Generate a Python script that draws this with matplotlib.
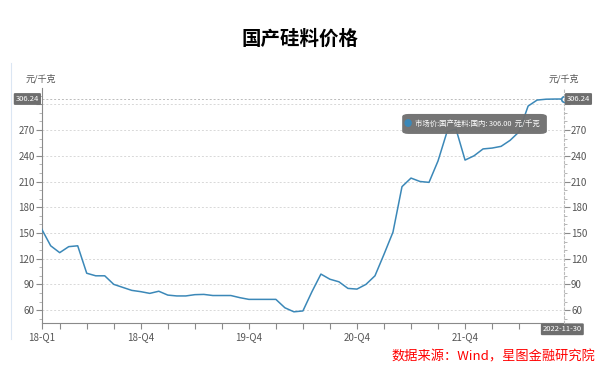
import matplotlib
matplotlib.use("Agg")
import matplotlib.pyplot as plt
from matplotlib.lines import Line2D
from matplotlib.patches import FancyBboxPatch
from matplotlib.ticker import MultipleLocator

plt.rcParams["font.family"] = ["Noto Sans CJK SC", "DejaVu Sans"]

# monthly price series, 元/千克
prices = [
    154.5, 135, 127, 134, 135, 103, 100, 100, 90, 86.5,
    83, 81.5, 79.5, 82, 77.5, 76.5, 76.5, 78, 78.3, 77,
    77, 77, 74.5, 72.5, 72.5, 72.5, 72.5, 62.7, 58, 59,
    81.4, 102, 96, 93, 85.3, 84.5, 90, 100, 125, 151,
    204, 214, 210, 209, 234, 268, 271, 235, 240, 248,
    249, 251, 258, 268, 298, 305, 306, 306.2, 306.24,
]
label_idx = [0, 11, 23, 35, 47]
labels = ["18-Q1", "18-Q4", "19-Q4", "20-Q4", "21-Q4"]
y_ticks = [60, 90, 120, 150, 180, 210, 240, 270, 300]
last_date = "2022-11-30"
series_name = "市场价:国产硅料:国内"
tooltip_value = 306.00

line_color = "#3B88B8"
axis_color = "#8a8a8a"
text_color = "#555555"
box_color = "#6e6e6e"

fig = plt.figure(figsize=(6.04, 3.70), dpi=100)
ax = fig.add_axes([0.069, 0.126, 0.865, 0.636])
ax2 = ax.twinx()

x = list(range(len(prices)))
ax.plot(x, prices, color=line_color, linewidth=1.1, zorder=3)
ax.plot(x[-1], prices[-1], "o", ms=4, mfc="white", mec=line_color, mew=1.2, zorder=4,
        clip_on=False)

ax.set_xlim(0, len(prices) - 1)
ax.set_ylim(44.5, 319)
ax2.set_ylim(44.5, 319)

# y ticks (300 label sits under the value box, as in the original)
ytl = [str(v) if v != 300 else "" for v in y_ticks]
for a in (ax, ax2):
    a.set_yticks(y_ticks)
    a.set_yticklabels(ytl)
    a.yaxis.set_minor_locator(MultipleLocator(10))
    a.tick_params(axis="y", which="major", length=4, width=0.8, color=axis_color,
                  labelsize=7, labelcolor=text_color, pad=1)
    a.tick_params(axis="y", which="minor", length=2.5, width=0.6, color="#aaaaaa")

# x ticks
ax.set_xticks(label_idx)
ax.set_xticklabels(labels)
ax.set_xticks(list(range(2, len(prices), 3)), minor=True)
ax.tick_params(axis="x", which="both", length=4, width=0.8, color=axis_color,
               labelsize=7, labelcolor=text_color, pad=2)

ax.grid(axis="y", color="#d8d8d8", linestyle=(0, (2, 2)), linewidth=0.7)
ax.set_axisbelow(True)

ax.spines["top"].set_visible(False)
ax2.spines["top"].set_visible(False)
ax.spines["left"].set_color(axis_color)
ax.spines["bottom"].set_color(axis_color)
ax.spines["right"].set_visible(False)
ax2.spines["left"].set_visible(False)
ax2.spines["bottom"].set_visible(False)
ax2.spines["right"].set_color("#bbbbbb")
ax2.spines["right"].set_linestyle((0, (2, 2)))

# pointer line at last value
ax.axhline(prices[-1], color="#bbbbbb", linestyle=(0, (2, 2)), linewidth=0.7, zorder=2)

# axis units
fig.text(0.068, 0.786, "元/千克", fontsize=6.5, color=text_color, ha="center", va="center")
fig.text(0.934, 0.786, "元/千克", fontsize=6.5, color=text_color, ha="center", va="center")

# value labels on both axes
box = dict(boxstyle="round,pad=0.25,rounding_size=0.15", fc=box_color, ec="none")
ax.text(-0.005, prices[-1], f"{prices[-1]:.2f}", transform=ax.get_yaxis_transform(),
        ha="right", va="center", fontsize=5.5, color="white", bbox=box, zorder=6, clip_on=False)
ax2.text(1.005, prices[-1], f"{prices[-1]:.2f}", transform=ax2.get_yaxis_transform(),
         ha="left", va="center", fontsize=5.5, color="white", bbox=box, zorder=6, clip_on=False)
ax.text(x[-1] - 0.2, -0.025, last_date, transform=ax.get_xaxis_transform(),
        ha="center", va="center", fontsize=5.5, color="white", bbox=box, zorder=6, clip_on=False)

# tooltip
ax.add_patch(FancyBboxPatch((0.690, 0.805), 0.277, 0.085, transform=ax.transAxes,
                            boxstyle="round,pad=0,rounding_size=0.012", fc=box_color,
                            ec="none", alpha=0.95, zorder=7))
ax.text(0.700, 0.848, "●", transform=ax.transAxes, ha="center", va="center",
        fontsize=6, color=line_color, zorder=8)
ax.text(0.714, 0.848, f"{series_name}: {tooltip_value:.2f}  元/千克", transform=ax.transAxes,
        ha="left", va="center", fontsize=5.3, color="white", fontweight="medium", zorder=8)

# title and source
fig.text(0.497, 0.893, "国产硅料价格", fontsize=14, fontweight="bold", ha="center", va="center")
fig.text(0.985, 0.035, "数据来源：Wind，星图金融研究院", fontsize=9.5, color="red",
         style="italic", ha="right", va="center")

# faint frame line on the left
fig.add_artist(Line2D([0.018, 0.018], [0.085, 0.83], color="#dbe6f3", linewidth=0.8))

fig.savefig("out.png", dpi=100)
